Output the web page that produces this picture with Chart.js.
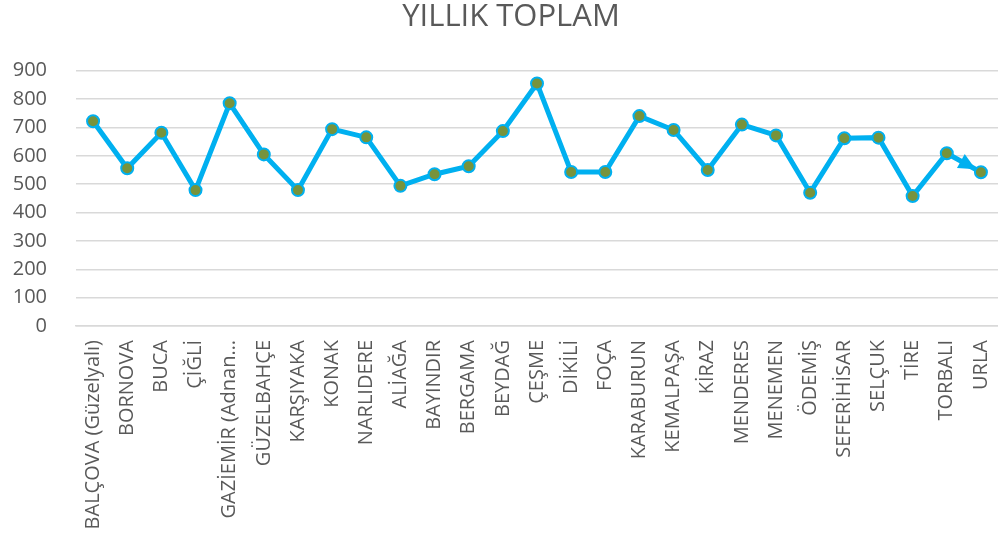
<!DOCTYPE html>
<html>
<head>
<meta charset="utf-8">
<script src="https://cdn.jsdelivr.net/npm/chart.js@4/dist/chart.umd.min.js"></script>
<style>
html,body{margin:0;padding:0;background:#fff;}
#wrap{width:998px;height:549px;position:relative;}
</style>
</head>
<body>
<div id="wrap"><canvas id="c" width="998" height="549"></canvas></div>
<script>
const chartTitle = "YILLIK TOPLAM";
const categories = ["BALÇOVA (Güzelyalı)","BORNOVA","BUCA","ÇİĞLİ","GAZİEMİR (Adnan…","GÜZELBAHÇE","KARŞIYAKA","KONAK","NARLIDERE","ALİAĞA","BAYINDIR","BERGAMA","BEYDAĞ","ÇEŞME","DİKİLİ","FOÇA","KARABURUN","KEMALPAŞA","KİRAZ","MENDERES","MENEMEN","ÖDEMİŞ","SEFERİHİSAR","SELÇUK","TİRE","TORBALI","URLA"];
const values = [722,556,681,479,785,605,479,694,665,494,535,563,687,855,543,543,740,691,550,710,672,470,662,664,458,609,542];
const yTicks = [0,100,200,300,400,500,600,700,800,900];

const arrowPlugin = {
  id: 'arrowEnd',
  beforeDatasetsDraw(chart) {
    const meta = chart.getDatasetMeta(0);
    const n = meta.data.length;
    if (n < 2) return;
    const p1 = meta.data[n-2], p2 = meta.data[n-1];
    const dx = p2.x - p1.x, dy = p2.y - p1.y;
    const len = Math.hypot(dx, dy);
    const ux = dx/len, uy = dy/len;
    const tipX = p2.x - ux*6, tipY = p2.y - uy*6;
    const L = 17, W = 8;
    const bx = tipX - ux*L, by = tipY - uy*L;
    const ctx = chart.ctx;
    ctx.save();
    ctx.fillStyle = '#00B0F0';
    ctx.beginPath();
    ctx.moveTo(tipX, tipY);
    ctx.lineTo(bx - uy*W, by + ux*W);
    ctx.lineTo(bx + uy*W, by - ux*W);
    ctx.closePath();
    ctx.fill();
    ctx.restore();
  }
};

const titlePlugin = {
  id: 'customTitle',
  afterDraw(chart) {
    const ctx = chart.ctx;
    ctx.save();
    ctx.fillStyle = '#595959';
    ctx.font = 'normal 31px "Open Sans"';
    ctx.textAlign = 'center';
    ctx.textBaseline = 'alphabetic';
    ctx.fillText(chartTitle, 511, 26);
    ctx.restore();
  }
};

new Chart(document.getElementById('c'), {
  type: 'line',
  data: {
    labels: categories,
    datasets: [{
      data: values,
      borderColor: '#00B0F0',
      borderWidth: 5,
      backgroundColor: '#77933C',
      pointBackgroundColor: '#77933C',
      pointBorderColor: '#00B0F0',
      pointBorderWidth: 2,
      pointRadius: 6,
      tension: 0,
      fill: false
    }]
  },
  options: {
    responsive: false,
    animation: false,
    layout: { autoPadding: false, padding: { left: 0, right: 0, top: 70.7, bottom: 0 } },
    plugins: {
      legend: { display: false },
      tooltip: { enabled: false },
      title: { display: false }
    },
    scales: {
      x: {
        offset: true,
        grid: { display: false, drawTicks: false },
        border: { display: true, color: '#D9D9D9', width: 1.5 },
        afterFit(axis) { axis.height = 223; axis.paddingLeft = 0; axis.paddingRight = 0; },
        ticks: {
          autoSkip: false,
          maxRotation: 90,
          minRotation: 90,
          padding: 14,
          color: '#595959',
          font: { family: 'Open Sans', size: 20 }
        }
      },
      y: {
        min: 0,
        max: 900,
        afterBuildTicks(axis) { axis.ticks = yTicks.map(v => ({ value: v })); },
        afterFit(axis) { axis.width = 76; axis.paddingTop = 0; axis.paddingBottom = 0; },
        grid: { color: '#D9D9D9', lineWidth: 1.5, drawTicks: false },
        border: { display: false },
        ticks: {
          padding: 29,
          color: '#595959',
          font: { family: 'Open Sans', size: 20 }
        }
      }
    }
  },
  plugins: [arrowPlugin, titlePlugin]
});
</script>
</body>
</html>
